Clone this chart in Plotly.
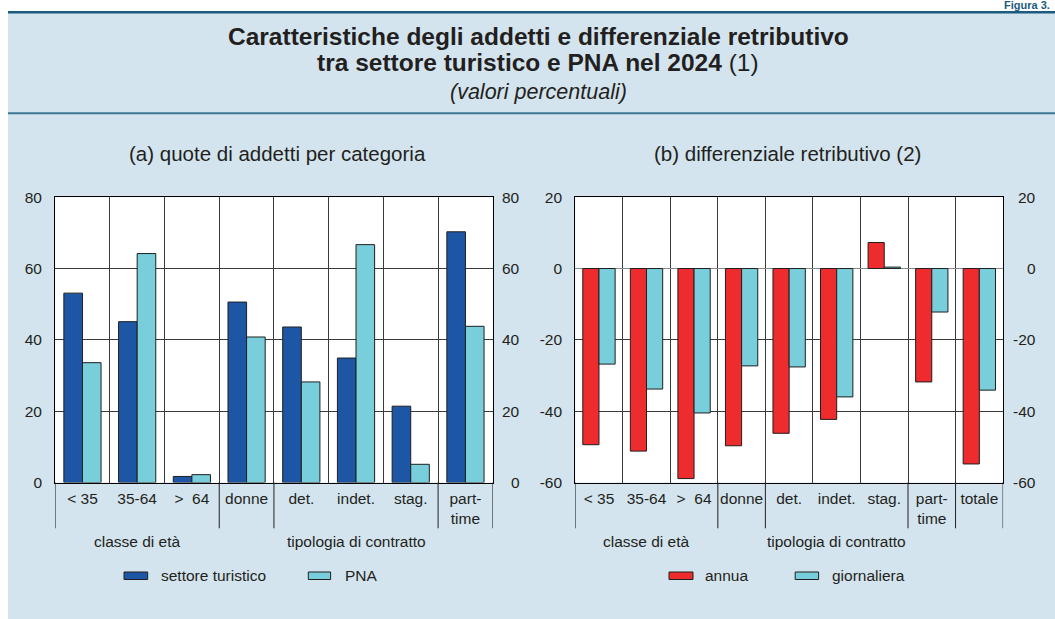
import plotly.graph_objects as go

W, H = 1055, 619

# ---------------- data ----------------
cats_a = ["< 35", "35-64", ">\u00a0\u00a064", "donne", "det.", "indet.", "stag.", "part-<br>time"]
turistico = [53.1, 45.1, 1.7, 50.6, 43.6, 34.9, 21.4, 70.3]
pna = [33.6, 64.2, 2.2, 40.8, 28.2, 66.7, 5.1, 43.8]

cats_b = ["< 35", "35-64", ">\u00a0\u00a064", "donne", "det.", "indet.", "stag.", "part-<br>time", "totale"]
annua = [-49.4, -51.2, -58.9, -49.7, -46.2, -42.3, 7.3, -31.8, -54.8]
giornaliera = [-26.8, -33.8, -40.5, -27.3, -27.6, -36.0, 0.4, -12.2, -34.1]

group_sizes_a = [3, 1, 3, 1]
group_sizes_b = [3, 1, 3, 1, 1]
group_labels = [("classe di età", 1), ("tipologia di contratto", 5)]  # label, centre category index

ticks_a = [0, 20, 40, 60, 80]
ticks_b = [-60, -40, -20, 0, 20]
ticktext_a = [str(v) for v in ticks_a]
ticktext_b = [str(v) for v in ticks_b]

title1 = "Caratteristiche degli addetti e differenziale retributivo"
title2 = "tra settore turistico e PNA nel 2024"
title3 = "(valori percentuali)"
sub_a = "(a) quote di addetti per categoria"
sub_b = "(b) differenziale retributivo (2)"
fig_label = "Figura 3."

# ---------------- style ----------------
C_DARK = "#1e56a6"
C_LIGHT = "#79cedb"
C_RED = "#ee2b2d"
EDGE = "#1f1f1f"
BG = "#d3e4ee"
TXT = "#231f20"
GRID = "#3a3a3a"
TEAL = "#1b5c7e"
FONT = "Liberation Sans, Arial, Helvetica, sans-serif"
FS = 15.5


def px(x):
    return x / W


def py(y):
    return 1 - y / H


Y_TOP, Y_BOT = 197.2, 482.5
ydom = [py(Y_BOT), py(Y_TOP)]
xdom_a = [px(55.1), px(492.8)]
xdom_b = [px(575.2), px(1003.1)]

fig = go.Figure()
edge = dict(color=EDGE, width=1)
fig.add_trace(go.Bar(x=cats_a, y=turistico, name="settore turistico",
                     marker=dict(color=C_DARK, line=edge), xaxis="x", yaxis="y"))
fig.add_trace(go.Bar(x=cats_a, y=pna, name="PNA",
                     marker=dict(color=C_LIGHT, line=edge), xaxis="x", yaxis="y"))
fig.add_trace(go.Bar(x=cats_b, y=annua, name="annua",
                     marker=dict(color=C_RED, line=edge), xaxis="x2", yaxis="y2"))
fig.add_trace(go.Bar(x=cats_b, y=giornaliera, name="giornaliera",
                     marker=dict(color=C_LIGHT, line=edge), xaxis="x2", yaxis="y2"))

xa_common = dict(type="category", tickson="boundaries", showgrid=True, gridcolor=GRID,
                 gridwidth=1, showline=True, mirror=True, linecolor="black", linewidth=1,
                 ticks="", tickangle=0, tickfont=dict(size=FS, color=TXT), ticklabelstandoff=2,
                 zeroline=False, fixedrange=True)
ya_common = dict(showgrid=True, gridcolor=GRID, gridwidth=1, showline=True, mirror=True,
                 linecolor="black", linewidth=1, ticks="", tickfont=dict(size=FS, color=TXT),
                 ticklabelstandoff=9, fixedrange=True)

fig.update_layout(
    width=W, height=H, margin=dict(l=0, r=0, t=0, b=0, autoexpand=False),
    paper_bgcolor=BG, plot_bgcolor="white",
    barmode="group", bargap=0.32, bargroupgap=0, showlegend=False,
    font=dict(family=FONT, size=FS, color=TXT),
    xaxis=dict(domain=xdom_a, anchor="y", range=[-0.5, len(cats_a) - 0.5], **xa_common),
    yaxis=dict(domain=ydom, anchor="x", range=[ticks_a[0], ticks_a[-1]], tickvals=ticks_a,
               ticktext=ticktext_a, zeroline=False, **ya_common),
    xaxis2=dict(domain=xdom_b, anchor="y2", range=[-0.5, len(cats_b) - 0.5], **xa_common),
    yaxis2=dict(domain=ydom, anchor="x2", range=[ticks_b[0], ticks_b[-1]], tickvals=ticks_b,
                ticktext=ticktext_b, zeroline=True, zerolinecolor="#8a8a8a", zerolinewidth=1,
                **ya_common),
)

shapes = []
# white margins around the blue panel
shapes.append(dict(type="rect", xref="paper", yref="paper", x0=0, x1=1, y0=py(11), y1=1,
                   fillcolor="white", line=dict(width=0), layer="below"))
shapes.append(dict(type="rect", xref="paper", yref="paper", x0=0, x1=px(8), y0=0, y1=1,
                   fillcolor="white", line=dict(width=0), layer="below"))
# header rules
shapes.append(dict(type="line", xref="paper", yref="paper", x0=px(8), x1=1, y0=py(12.2), y1=py(12.2),
                   line=dict(color=TEAL, width=2.6)))
shapes.append(dict(type="line", xref="paper", yref="paper", x0=px(8), x1=1, y0=py(113.3), y1=py(113.3),
                   line=dict(color="#3c7895", width=2)))


def separators(sizes, xref):
    pos = [-0.5]
    for s in sizes:
        pos.append(pos[-1] + s)
    out = []
    for b in pos:
        out.append(dict(type="line", xref=xref, yref="paper", x0=b, x1=b,
                        y0=py(528.3), y1=py(Y_BOT), line=dict(color=TXT, width=1)))
    return out


shapes += separators(group_sizes_a, "x")
shapes += separators(group_sizes_b, "x2")

# legend swatches
legend_items = [
    (124, 147.7, C_DARK, 158.9, "settore turistico"),
    (308.3, 330.6, C_LIGHT, 343, "PNA"),
    (669, 693, C_RED, 703.1, "annua"),
    (795.2, 818.6, C_LIGHT, 829.7, "giornaliera"),
]
for x0, x1, col, tx, lab in legend_items:
    shapes.append(dict(type="rect", xref="paper", yref="paper", x0=px(x0), x1=px(x1),
                       y0=py(579.5), y1=py(572), fillcolor=col, line=dict(color=EDGE, width=1)))

ann = []


def text(x, y, t, size=FS, xanchor="center", xref="paper", yref="paper", color=TXT, yanchor="middle"):
    ann.append(dict(x=x, y=y, xref=xref, yref=yref, text=t, showarrow=False,
                    xanchor=xanchor, yanchor=yanchor, font=dict(size=size, color=color, family=FONT)))


for x0, x1, col, tx, lab in legend_items:
    text(px(tx), py(575.7), lab, xanchor="left")

# right-hand tick labels (right aligned, as in the original)
for v, t in zip(ticks_a, ticktext_a):
    text(px(522.2), v, t, xanchor="right", yref="y")
for v, t in zip(ticks_b, ticktext_b):
    text(px(1038.3), v, t, xanchor="right", yref="y2")

# group labels under the axes
for lab, idx in group_labels:
    text(idx, py(541), lab, xref="x")
    text(idx, py(541), lab, xref="x2")

# panel titles
text(px(277.5), py(153.3), sub_a, size=20.5)
text(px(787), py(153.3), sub_b, size=20.5)

# main titles
text(px(538), py(36.7), "<b>" + title1 + "</b>", size=24.5)
text(px(538), py(62.5), "<b>" + title2 + "</b> (1)", size=24.5)
text(px(538), py(92), "<i>" + title3 + "</i>", size=21.5)

# figure number (top right, in the white strip)
text(px(1052), py(5.2), "<b>" + fig_label + "</b>", size=11, xanchor="right", color=TEAL)

fig.update_layout(shapes=shapes, annotations=ann)
fig.write_html(
    "out.html",
    config={"displayModeBar": False, "staticPlot": True},
    post_script="document.body.style.margin='0';document.body.style.overflow='hidden';",
)
